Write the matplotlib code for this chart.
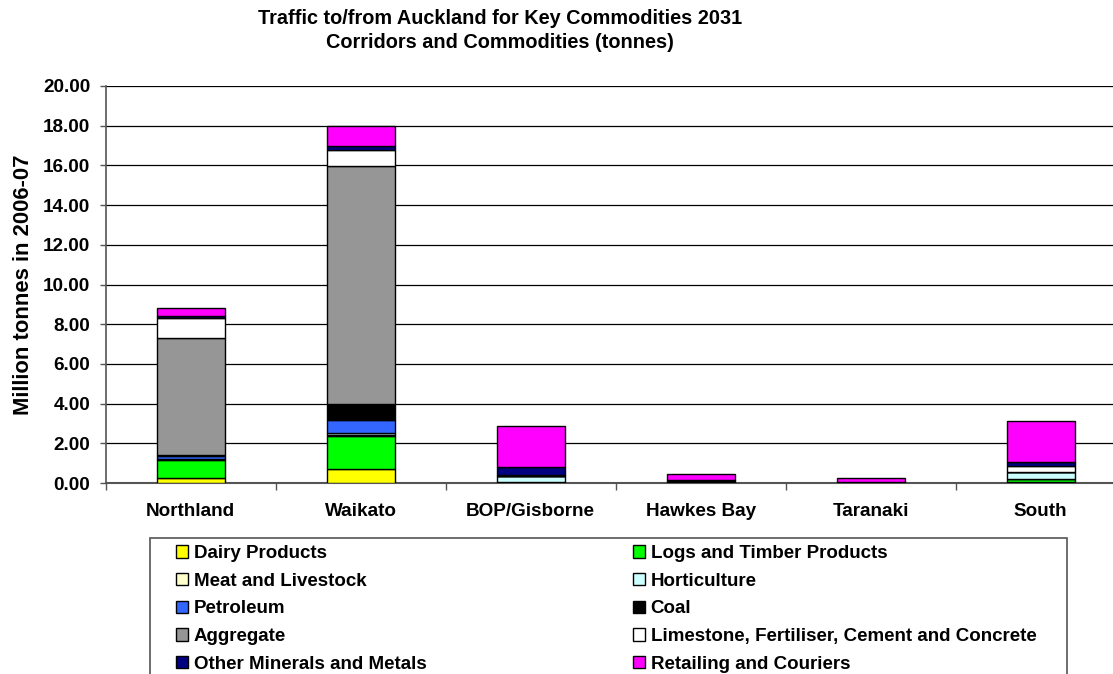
import numpy as np
import matplotlib
matplotlib.use('Agg')
import matplotlib.pyplot as plt
from matplotlib.patches import Rectangle

plt.rcParams['font.family'] = ['Liberation Sans', 'DejaVu Sans']
plt.rcParams['font.weight'] = 'bold'

corridors = ['Northland', 'Waikato', 'BOP/Gisborne', 'Hawkes Bay', 'Taranaki', 'South']

commodities = ['Dairy Products', 'Logs and Timber Products', 'Meat and Livestock',
               'Horticulture', 'Petroleum', 'Coal', 'Aggregate',
               'Limestone, Fertiliser, Cement and Concrete',
               'Other Minerals and Metals', 'Retailing and Couriers']

colours = ['#FFFF00', '#00FF00', '#FFFFCC', '#CCFFFF', '#3366FF', '#000000',
           '#969696', '#FFFFFF', '#000080', '#FF00FF']

# million tonnes, one list per commodity, in corridor order
dairy = [0.25, 0.72, 0.00, 0.00, 0.00, 0.03]
logs = [0.92, 1.64, 0.05, 0.02, 0.01, 0.15]
meat = [0.03, 0.08, 0.02, 0.01, 0.00, 0.02]
horticulture = [0.03, 0.06, 0.28, 0.08, 0.02, 0.35]
petroleum = [0.12, 0.65, 0.02, 0.00, 0.00, 0.02]
coal = [0.05, 0.84, 0.00, 0.00, 0.00, 0.00]
aggregate = [5.90, 11.96, 0.00, 0.00, 0.00, 0.00]
limestone = [0.99, 0.85, 0.03, 0.00, 0.00, 0.30]
other_minerals = [0.10, 0.20, 0.42, 0.03, 0.02, 0.20]
retailing = [0.42, 1.00, 2.03, 0.30, 0.18, 2.03]

series = [dairy, logs, meat, horticulture, petroleum, coal, aggregate,
          limestone, other_minerals, retailing]

W, H = 1113, 674
fig = plt.figure(figsize=(W / 100, H / 100), dpi=100)
ax = fig.add_axes([105.7 / W, 1 - 483 / H, 1020 / W, 397 / H])

x = np.arange(len(corridors))
bottom = np.zeros(len(corridors))
handles = []
for name, vals, col in zip(commodities, series, colours):
    b = ax.bar(x, vals, width=0.4, bottom=bottom, color=col, edgecolor='black',
               linewidth=1.0, label=name, zorder=3)
    handles.append(b)
    bottom += np.array(vals)

ax.set_xlim(-0.5, len(corridors) - 0.5)
ax.set_ylim(0, 20)
yt = np.arange(0, 20.01, 2)
ax.set_yticks(yt)
ax.set_yticklabels(['%.2f' % v for v in yt], fontsize=13.6, fontweight='bold')
ax.set_xticks(x)
ax.set_xticklabels(corridors, fontsize=13.6, fontweight='bold')
ax.set_xticks(np.arange(-0.5, len(corridors)), minor=True)
ax.tick_params(axis='x', which='major', length=0, pad=14.5)
ax.tick_params(axis='x', which='minor', length=5, width=1, color='#555555')
ax.tick_params(axis='y', length=4.5, width=1, color='#555555', pad=6.5)
ax.yaxis.grid(True, color='black', linewidth=0.9, zorder=0)
ax.set_axisbelow(True)

for side in ['top', 'right']:
    ax.spines[side].set_visible(False)
ax.spines['left'].set_color('#555555')
ax.spines['left'].set_linewidth(1.2)
ax.spines['bottom'].set_color('#555555')
ax.spines['bottom'].set_linewidth(1.5)

ax.set_ylabel('Million tonnes in 2006-07', fontsize=15.8, fontweight='bold')
ax.yaxis.set_label_coords((34 - 105.7) / 1020, 0.5)

fig.text(500 / W, 1 - 18 / H, 'Traffic to/from Auckland for Key Commodities 2031',
         ha='center', va='center', fontsize=14.3, fontweight='bold')
fig.text(500 / W, 1 - 42 / H, 'Corridors and Commodities (tonnes)',
         ha='center', va='center', fontsize=14.3, fontweight='bold')

# legend box, open at the bottom edge of the figure
fig.patches.append(Rectangle((150 / W, -0.05), (1067 - 150) / W, 1 - 538 / H + 0.05,
                             transform=fig.transFigure, facecolor='white',
                             edgecolor='#555555', linewidth=1.2, zorder=0))

# legend reads across rows, matplotlib fills down columns
order = [0, 2, 4, 6, 8, 1, 3, 5, 7, 9]
leg = fig.legend([handles[i] for i in order], [commodities[i] for i in order],
                 ncol=2, loc='upper left', bbox_to_anchor=(176 / W, 1 - 545 / H),
                 fontsize=13.5, frameon=False,
                 handlelength=0.65, handleheight=0.65, handletextpad=0.3,
                 labelspacing=0.57, columnspacing=11.0,
                 borderaxespad=0, borderpad=0)
for t in leg.get_texts():
    t.set_fontweight('bold')

fig.savefig('out.png', dpi=100)
